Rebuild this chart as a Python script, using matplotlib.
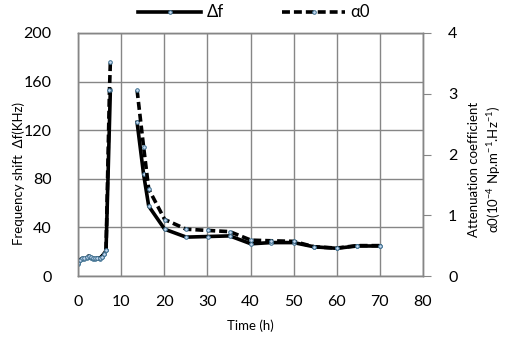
import matplotlib
matplotlib.use("Agg")
import matplotlib.pyplot as plt
import numpy as np

plt.rcParams['font.family'] = ['Lato', 'DejaVu Sans']
plt.rcParams['mathtext.fontset'] = 'custom'
plt.rcParams['mathtext.rm'] = 'Lato'

# frequency shift (KHz) vs time (h)
t_df = [0, 0.5, 1, 1.5, 2, 2.5, 3, 3.5, 4, 4.5, 5, 5.5, 6, 6.5, 7.5, np.nan,
        13.7, 15.2, 16.4, 20.1, 25.1, 30.1, 35.2, 40.1, 44.8, 50, 54.8, 60, 64.7, 70]
df = [10, 13, 14, 14, 15, 16, 15, 14, 14, 15, 14, 16, 18, 21, 153, np.nan,
      126.5, 84, 57.5, 38.5, 32, 32.5, 33, 26.5, 27.5, 27.5, 24, 22.8, 24.7, 24.7]

# attenuation coefficient (1e-4 Np/m/Hz) vs time (h)
t_a0 = [0, 0.5, 1, 1.5, 2, 2.5, 3, 3.5, 4, 4.5, 5, 5.5, 6, 6.5, 7.3, 7.5, np.nan,
        13.7, 15.2, 16.4, 20.1, 25.1, 30.1, 35.2, 40.1, 44.8, 50, 54.8, 60, 64.7, 70]
a0 = [0.22, 0.27, 0.29, 0.3, 0.31, 0.33, 0.31, 0.29, 0.29, 0.3, 0.29, 0.32, 0.36, 0.42, 3.06, 3.52, np.nan,
      3.06, 2.13, 1.43, 0.93, 0.77, 0.75, 0.73, 0.59, 0.58, 0.57, 0.48, 0.46, 0.5, 0.5]

x_ticks = [0, 10, 20, 30, 40, 50, 60, 70, 80]
y1_ticks = [0, 40, 80, 120, 160, 200]
y2_ticks = [0, 1, 2, 3, 4]

GRID = '#868686'

fig = plt.figure(figsize=(5.08, 3.55), dpi=100)
ax = fig.add_axes([78 / 508, 1 - 276 / 355, 345 / 508, 243 / 355])
ax2 = ax.twinx()

mk = dict(marker='o', markersize=2.6, markerfacecolor='#c6d9f1',
          markeredgecolor='#3d6f8f', markeredgewidth=0.7)

l1, = ax.plot(t_df, df, color='black', linewidth=2.6, label='Δf', **mk)
l2, = ax2.plot(t_a0, a0, color='black', linewidth=2.6, linestyle=(0, (2.2, 1.1)),
               label='α0', **mk)

ax.set_xlim(0, 80)
ax.set_ylim(0, 200)
ax2.set_ylim(0, 4)
ax.set_xticks(x_ticks)
ax.set_yticks(y1_ticks)
ax2.set_yticks(y2_ticks)

ax.grid(True, color=GRID, linewidth=1)
ax.set_axisbelow(True)
for a in (ax, ax2):
    for s in a.spines.values():
        s.set_color(GRID)
        s.set_linewidth(1)

ax.tick_params(axis='both', length=0, labelsize=11.5)
ax.tick_params(axis='y', pad=19)
ax.tick_params(axis='x', pad=14)
ax2.tick_params(axis='y', length=6, color=GRID, labelsize=11.5, pad=12)

ax.set_xlabel('Time (h)', fontsize=9.5, labelpad=7)
ax.set_ylabel('Frequency shift  Δf(KHz)', fontsize=9.5)
ax.yaxis.set_label_coords(-0.155, 0.42)
ax2.set_ylabel('Attenuation coefficient\n' + r'α0(10$^{-4}$ Np.m$^{-1}$.Hz$^{-1}$)',
               fontsize=9.5, linespacing=1.4)
ax2.yaxis.set_label_coords(1.13, 0.44)

fig.legend([l1, l2], ['Δf', 'α0'], loc='center', bbox_to_anchor=(0.5, 0.965),
           ncol=2, frameon=False, fontsize=12, handlelength=3.8,
           columnspacing=3.5, handletextpad=0.3)

fig.savefig('out.png', dpi=100)
